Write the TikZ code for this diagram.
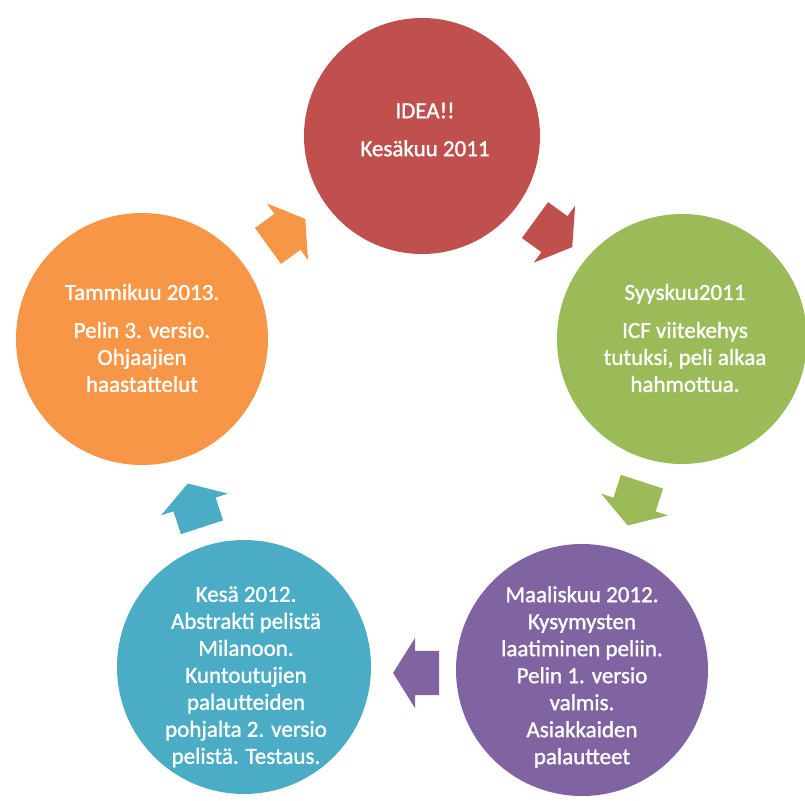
\documentclass[tikz,border=0pt]{standalone}
\usepackage{fontspec}
\setmainfont{Carlito}[FakeBold=1.2]
\usetikzlibrary{shapes.arrows}
\definecolor{cred}{HTML}{C0504D}
\definecolor{cgreen}{HTML}{9BBB59}
\definecolor{cpurple}{HTML}{8064A2}
\definecolor{cblue}{HTML}{4BACC6}
\definecolor{corange}{HTML}{F79646}
\begin{document}
\begin{tikzpicture}[x=1pt,y=-1pt,
  disc/.style={circle, minimum size=#1, inner sep=0pt, draw=none},
  circtext/.style={text=white, align=center, font=\fontsize{23}{27}\selectfont, inner sep=0pt},
  cyclearrow/.style={single arrow, draw=none, minimum height=46pt, minimum width=0pt,
    inner xsep=0pt, inner ysep=22pt, single arrow head extend=13pt, single arrow tip angle=116}
]
\useasboundingbox (0,0) rectangle (805,800);

% circles
\node[disc=236pt, fill=cred]    (c1) at (422,136) {};
\node[disc=250pt, fill=cgreen]  (c2) at (682,339) {};
\node[disc=252pt, fill=cpurple] (c3) at (582,670) {};
\node[disc=254pt, fill=cblue]   (c4) at (244,667) {};
\node[disc=252pt, fill=corange] (c5) at (142,339) {};

% texts
\node[circtext] (t1) at (425,129.5) {IDEA!!\\[11pt]Kesäkuu 2011};
\node[circtext] (t2) at (685,338) {Syyskuu2011\\[11pt]ICF viitekehys\\tutuksi, peli alkaa\\hahmottua.};
\node[circtext] (t3) at (582,677) {Maaliskuu 2012.\\Kysymysten\\laatiminen peliin.\\Pelin 1. versio\\valmis.\\Asiakkaiden\\palautteet};
\node[circtext] (t4) at (246,677) {Kesä 2012.\\Abstrakti pelistä\\Milanoon.\\Kuntoutujien\\palautteiden\\pohjalta 2. versio\\pelistä. Testaus.};
\node[circtext] (t5) at (142,338) {Tammikuu 2013.\\[11pt]Pelin 3. versio.\\Ohjaajien\\haastattelut};

% arrows
\node[cyclearrow, fill=cred,    rotate=-36]  (a1) at (548,229.5) {};
\node[cyclearrow, fill=cgreen,  rotate=-108] (a2) at (637,497) {};
\node[cyclearrow, fill=cpurple, rotate=180]  (a3) at (423,673) {};
\node[cyclearrow, fill=cblue,   rotate=108]  (a4) at (197,512) {};
\node[cyclearrow, fill=corange, rotate=36]   (a5) at (281,236.5) {};
\end{tikzpicture}
\end{document}
